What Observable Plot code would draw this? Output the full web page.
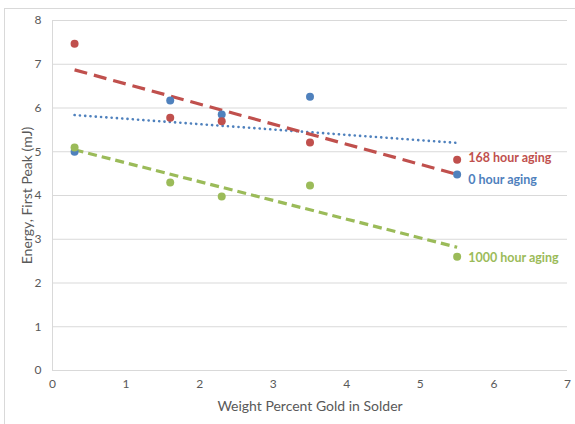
<!DOCTYPE html>
<html><head><meta charset="utf-8">
<script src="https://cdn.jsdelivr.net/npm/d3@7"></script>
<script src="https://cdn.jsdelivr.net/npm/@observablehq/plot@0.6"></script>
<style>
body{margin:0;background:#fff;font-family:Lato,"Open Sans",sans-serif;}
#wrap{position:relative;width:575px;height:424px;overflow:hidden;}
#frame{position:absolute;left:4px;top:8px;width:620px;height:500px;border:1px solid #d9d9d9;box-sizing:border-box;}
</style></head>
<body><div id="wrap"><div id="frame"></div></div>
<script>
const gold = [0.3, 1.6, 2.3, 3.5, 5.5];
const series = ["0 hour aging", "168 hour aging", "1000 hour aging"];
const energy0 = [5.0, 6.17, 5.85, 6.26, 4.48];
const energy168 = [7.47, 5.78, 5.70, 5.21, 4.82];
const energy1000 = [5.10, 4.30, 3.98, 4.23, 2.60];
const colors = ["#4F81BD", "#C0504D", "#9BBB59"];
const xTicks = [0,1,2,3,4,5,6,7];
const yTicks = [0,1,2,3,4,5,6,7,8];

const vals = [energy0, energy168, energy1000];
const data = [];
series.forEach((s,i)=>gold.forEach((g,j)=>data.push({series:s, x:g, y:vals[i][j]})));
const bySeries = s => data.filter(d=>d.series===s);
const lastPoint = i => ({series:series[i], x:gold[gold.length-1], y:vals[i][vals[i].length-1]});
const dashes = ["0.1,5.2","13,7","9,5"];
const widths = [2.6,3.2,3.2];
const caps = ["round","butt","butt"];
const labelDy = [5,-2,1];

const chart = Plot.plot({
  width:575, height:424,
  marginLeft:52, marginRight:8, marginTop:20, marginBottom:54,
  style:{fontFamily:"Lato, 'Open Sans', sans-serif", background:"transparent", color:"#595959"},
  x:{domain:[0,7], ticks:xTicks},
  y:{domain:[0,8], ticks:yTicks},
  color:{domain:series, range:colors},
  marks:[
    Plot.gridY(yTicks,{stroke:"#d9d9d9", strokeOpacity:1}),
    Plot.ruleX([0],{stroke:"#d9d9d9"}),
    Plot.ruleY([0],{stroke:"#d9d9d9"}),
    Plot.axisX(xTicks,{tickSize:0, tickPadding:9, fontSize:12, fill:"#595959", label:"Weight Percent Gold in Solder", labelOffset:40, labelAnchor:"center", labelArrow:"none"}),
    Plot.axisY(yTicks,{tickSize:0, tickPadding:11, fontSize:12, fill:"#595959", label:"Energy, First Peak (mJ)", labelOffset:30, labelAnchor:"center", labelArrow:"none"}),
    ...series.map((s,i)=>Plot.linearRegressionY(bySeries(s),{x:"x", y:"y", stroke:colors[i], ci:0, strokeWidth:widths[i], strokeDasharray:dashes[i], strokeLinecap:caps[i]})),
    Plot.dot(data,{x:"x", y:"y", fill:"series", r:4}),
    ...series.map((s,i)=>Plot.text([lastPoint(i)],{x:"x", y:"y", text:"series", fill:colors[i], dx:11, dy:labelDy[i], textAnchor:"start", fontSize:12.5, fontWeight:"bold"}))
  ]
});
chart.style.position="absolute";chart.style.left="0";chart.style.top="0";
document.getElementById("wrap").appendChild(chart);
chart.querySelectorAll("g[aria-label='x-axis label'] text, g[aria-label='y-axis label'] text").forEach(t=>t.setAttribute("font-size","14"));
</script></body></html>
